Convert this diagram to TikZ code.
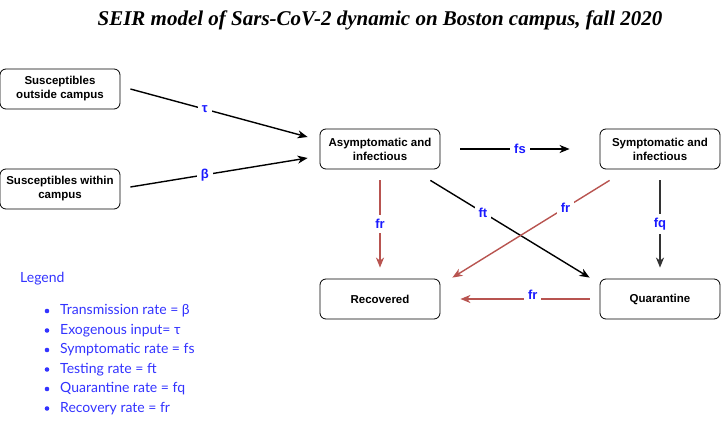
\documentclass[tikz,border=0pt]{standalone}
\usepackage{fontspec}
\usepackage{xcolor}
\usepackage{tikz}
\usetikzlibrary{arrows.meta, positioning}
\newfontfamily\boxfont{Liberation Sans}
\newfontfamily\legfont{Lato}
\newfontfamily\titlefont{Liberation Serif}
\definecolor{SeirRed}{HTML}{B85450}
\definecolor{SeirBlue}{HTML}{1A1AFF}
\definecolor{SeirLegend}{HTML}{3333FF}
\definecolor{SeirGray}{HTML}{333333}

\begin{document}
\begin{tikzpicture}[x=1pt, y=-1pt,
    compart/.style={
      rectangle, rounded corners=6pt, draw=black, fill=white, line width=0.8pt,
      minimum width=120pt, minimum height=40pt, align=center,
      font=\boxfont\bfseries\fontsize{11.5}{14}\selectfont
    },
    rate/.style={fill=white, inner sep=4pt, text=SeirBlue,
      font=\boxfont\bfseries\fontsize{13}{15}\selectfont},
    arr/.style={-{Stealth[length=10pt, width=8pt, inset=3pt]}, line width=1.4pt},
    recarr/.style={arr, draw=SeirRed},
    legitem/.style={anchor=west, text=SeirLegend, inner sep=0pt,
      font=\legfont\fontsize{14}{16}\selectfont}
  ]
    \useasboundingbox (0,0) rectangle (721,438);

    \node[font=\titlefont\bfseries\itshape\fontsize{21}{24}\selectfont] (title) at (380,20)
      {SEIR model of Sars-CoV-2 dynamic on Boston campus, fall 2020};

    % compartments
    \node[compart] (sout) at (60,89) {Susceptibles\\outside campus};
    \node[compart] (sin) at (60,189) {Susceptibles within\\campus};
    \node[compart] (asym) at (380,149) {Asymptomatic and\\infectious};
    \node[compart] (sym) at (660,149) {Symptomatic and\\infectious};
    \node[compart] (rec) at (380,299) {Recovered};
    \node[compart] (quar) at (660,299) {Quarantine};

    % flows
    \draw[arr] ([xshift=10pt]sout.east) -- node[rate, pos=0.42] (tau) {τ} ([xshift=-12pt, yshift=12pt]asym.west);
    \draw[arr] ([xshift=10pt, yshift=2pt]sin.east) -- node[rate, pos=0.42] (beta) {β} ([xshift=-12pt, yshift=-9pt]asym.west);
    \draw[arr, shorten <=20pt, shorten >=30pt] (asym.east) -- node[rate] (fs) {fs} (sym.west);
    \draw[recarr, shorten <=11pt, shorten >=11pt] (asym.south) -- node[rate] (fra) {fr} (rec.north);
    \draw[arr] ([xshift=-10pt, yshift=-11pt]asym.south east) -- node[rate, pos=0.33] (ft) {ft} ([xshift=-10pt, yshift=1pt]quar.north west);
    \draw[recarr] ([xshift=10pt, yshift=-11pt]sym.south west) -- node[rate, pos=0.28] (frs) {fr} ([xshift=12pt, yshift=1pt]rec.north east);
    \draw[arr, draw=SeirGray, shorten <=11pt, shorten >=11pt] (sym.south) -- node[rate] (fq) {fq} (quar.north);
    \draw[recarr, shorten <=10pt, shorten >=20pt] (quar.west) -- node[rate, pos=0.42, yshift=4pt] (frq) {fr} (rec.east);

    % legend
    \node[legitem] (legend) at (20,279) {Legend};
    \foreach \txt [count=\i] in {Transmission rate = β, Exogenous input= τ,
        Symptomatic rate = fs, Testing rate = ft, Quarantine rate = fq, Recovery rate = fr} {
      \fill[SeirLegend] (47,{291.5+19.5*\i}) circle (2.3pt);
      \node[legitem] (leg\i) at (60,{291.5+19.5*\i}) {\txt};
    }
\end{tikzpicture}
\end{document}
